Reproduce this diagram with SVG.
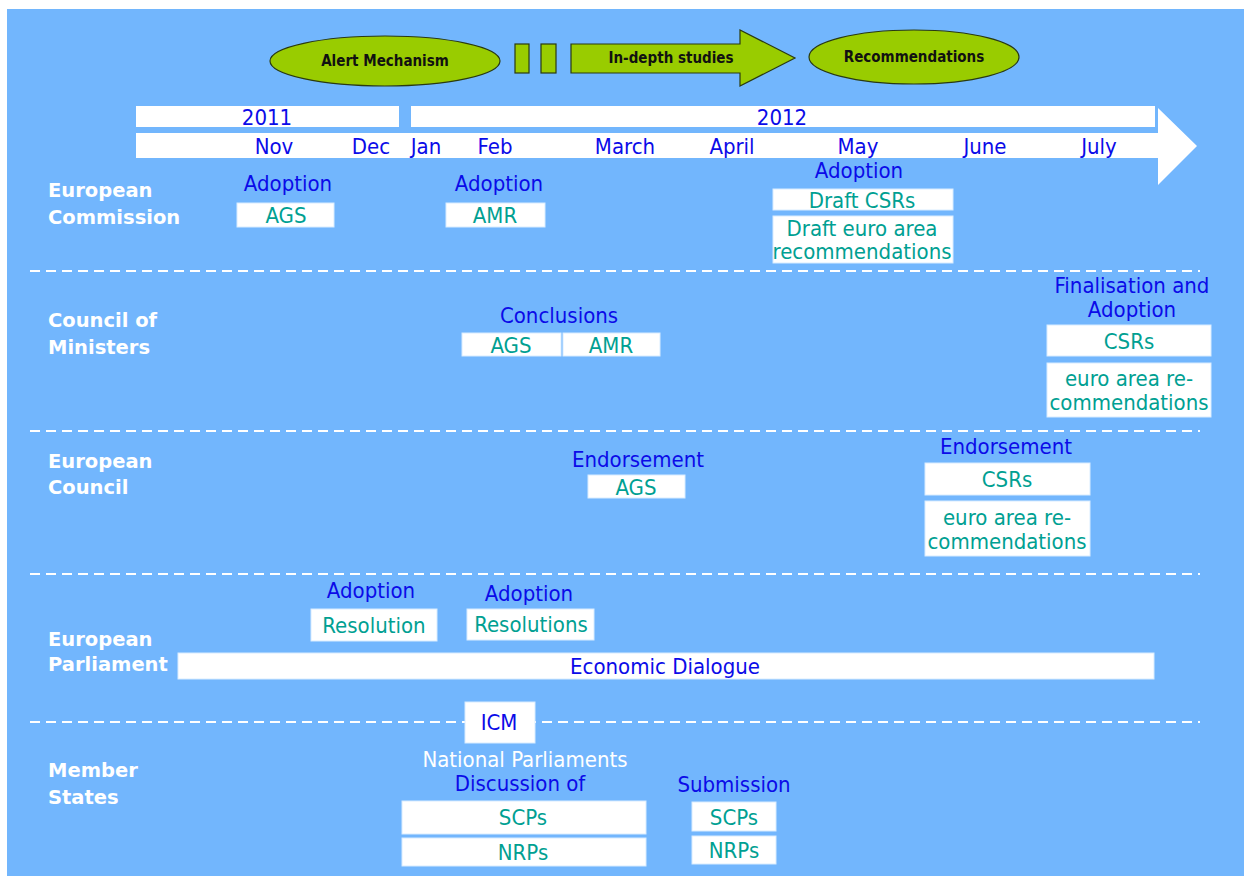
<svg xmlns="http://www.w3.org/2000/svg" width="1244" height="876" viewBox="0 0 1244 876">
<defs>
<style>
.t{font-family:"DejaVu Sans Condensed","DejaVu Sans",sans-serif;font-stretch:condensed;font-size:22px;text-anchor:middle}
.b{fill:#0b0be8}
.g{fill:#00a092}
.w{fill:#ffffff}
.lab{font-family:"DejaVu Sans",Verdana,sans-serif;font-weight:bold;font-size:19.5px;fill:#ffffff}
.box{fill:#ffffff;stroke:#d8ecff;stroke-width:1}
.top{font-family:"DejaVu Sans Condensed","DejaVu Sans",sans-serif;font-stretch:condensed;font-weight:bold;font-size:15px;fill:#111;text-anchor:middle}
.grn{fill:#99cc00;stroke:#2a3a10;stroke-width:1.2}
.dash{stroke:#ffffff;stroke-width:2;stroke-dasharray:10 6;fill:none}
</style>
</defs>
<rect x="7" y="9" width="1237" height="867" fill="#72b6fd"/>

<g id="phases">
<g id="alert"><ellipse class="grn" cx="385" cy="61" rx="115" ry="25"/><text class="top" x="385" y="66">Alert Mechanism</text></g>
<g id="gap1"><rect class="grn" x="515" y="44" width="14" height="29"/></g>
<g id="gap2"><rect class="grn" x="541" y="44" width="15" height="29"/></g>
<g id="indepth"><path class="grn" d="M571 44 H740 V30 L795 58 L740 86 V73 H571 Z"/><text class="top" x="671" y="63">In-depth studies</text></g>
<g id="recs"><ellipse class="grn" cx="914" cy="57" rx="105" ry="27"/><text class="top" x="914" y="62">Recommendations</text></g>
</g>

<g id="timeline">
<rect x="136" y="106" width="263" height="21" fill="#fff"/>
<rect x="411" y="106" width="744" height="21" fill="#fff"/>
<path d="M136 133 H1158 V108 L1197 146 L1158 185 V158 H136 Z" fill="#fff"/>
<text class="t b" x="267" y="125">2011</text>
<text class="t b" x="782" y="125">2012</text>
<text class="t b" x="274" y="154">Nov</text>
<text class="t b" x="371" y="154">Dec</text>
<text class="t b" x="426" y="154">Jan</text>
<text class="t b" x="495" y="154">Feb</text>
<text class="t b" x="625" y="154">March</text>
<text class="t b" x="732" y="154">April</text>
<text class="t b" x="858" y="154">May</text>
<text class="t b" x="985" y="154">June</text>
<text class="t b" x="1099" y="154">July</text>
</g>

<g id="separators">
<line class="dash" x1="30" y1="271" x2="1200" y2="271"/>
<line class="dash" x1="30" y1="431" x2="1200" y2="431"/>
<line class="dash" x1="30" y1="574" x2="1200" y2="574"/>
<line class="dash" x1="30" y1="722" x2="1200" y2="722"/>
</g>

<g id="labels">
<text class="lab" x="48" y="197">European</text>
<text class="lab" x="48" y="224">Commission</text>
<text class="lab" x="48" y="327">Council of</text>
<text class="lab" x="48" y="354">Ministers</text>
<text class="lab" x="48" y="468">European</text>
<text class="lab" x="48" y="494">Council</text>
<text class="lab" x="48" y="646">European</text>
<text class="lab" x="48" y="671">Parliament</text>
<text class="lab" x="48" y="777">Member</text>
<text class="lab" x="48" y="804">States</text>
</g>

<g id="commission">
<text class="t b" x="288" y="191">Adoption</text>
<g id="ec-ags"><rect class="box" x="237" y="203" width="97" height="24"/><text class="t g" x="286" y="223">AGS</text></g>
<text class="t b" x="499" y="191">Adoption</text>
<g id="ec-amr"><rect class="box" x="446" y="203" width="99" height="24"/><text class="t g" x="495" y="223">AMR</text></g>
<text class="t b" x="859" y="178">Adoption</text>
<g id="ec-csr"><rect class="box" x="773" y="189" width="180" height="21"/><text class="t g" x="862" y="208">Draft CSRs</text></g>
<g id="ec-euro"><rect class="box" x="773" y="216" width="180" height="47"/><text class="t g" x="862" y="236">Draft euro area</text><text class="t g" x="862" y="259">recommendations</text></g>
</g>

<g id="council-ministers">
<text class="t b" x="559" y="323">Conclusions</text>
<g id="cm-ags"><rect class="box" x="462" y="333" width="99" height="23"/><text class="t g" x="511" y="353">AGS</text></g>
<g id="cm-amr"><rect class="box" x="563" y="333" width="97" height="23"/><text class="t g" x="611" y="353">AMR</text></g>
<text class="t b" x="1132" y="293">Finalisation and</text>
<text class="t b" x="1132" y="317">Adoption</text>
<g id="cm-csr"><rect class="box" x="1047" y="325" width="164" height="31"/><text class="t g" x="1129" y="349">CSRs</text></g>
<g id="cm-euro"><rect class="box" x="1047" y="363" width="164" height="54"/><text class="t g" x="1129" y="386">euro area  re-</text><text class="t g" x="1129" y="410">commendations</text></g>
</g>

<g id="european-council">
<text class="t b" x="638" y="467">Endorsement</text>
<g id="ecl-ags"><rect class="box" x="588" y="475" width="97" height="23"/><text class="t g" x="636" y="495">AGS</text></g>
<text class="t b" x="1006" y="454">Endorsement</text>
<g id="ecl-csr"><rect class="box" x="925" y="463" width="165" height="32"/><text class="t g" x="1007" y="487">CSRs</text></g>
<g id="ecl-euro"><rect class="box" x="925" y="501" width="165" height="55"/><text class="t g" x="1007" y="525">euro area  re-</text><text class="t g" x="1007" y="549">commendations</text></g>
</g>

<g id="parliament">
<text class="t b" x="371" y="598">Adoption</text>
<g id="ep-res"><rect class="box" x="311" y="609" width="126" height="32"/><text class="t g" x="374" y="633">Resolution</text></g>
<text class="t b" x="529" y="601">Adoption</text>
<g id="ep-ress"><rect class="box" x="467" y="609" width="127" height="31"/><text class="t g" x="531" y="632">Resolutions</text></g>
<g id="ep-dialogue"><rect class="box" x="178" y="653" width="976" height="26"/><text class="t b" x="665" y="674">Economic Dialogue</text></g>
</g>

<g id="member-states">
<g id="ms-icm"><rect class="box" x="465" y="702" width="70" height="41"/><text class="t b" x="499" y="730">ICM</text></g>
<text class="t w" x="525" y="767">National Parliaments</text>
<text class="t b" x="520" y="791">Discussion of</text>
<g id="ms-scp1"><rect class="box" x="402" y="801" width="244" height="33"/><text class="t g" x="523" y="825">SCPs</text></g>
<g id="ms-nrp1"><rect class="box" x="402" y="838" width="244" height="28"/><text class="t g" x="523" y="860">NRPs</text></g>
<text class="t b" x="734" y="792">Submission</text>
<g id="ms-scp2"><rect class="box" x="692" y="802" width="84" height="29"/><text class="t g" x="734" y="825">SCPs</text></g>
<g id="ms-nrp2"><rect class="box" x="692" y="836" width="84" height="28"/><text class="t g" x="734" y="858">NRPs</text></g>
</g>
</svg>
